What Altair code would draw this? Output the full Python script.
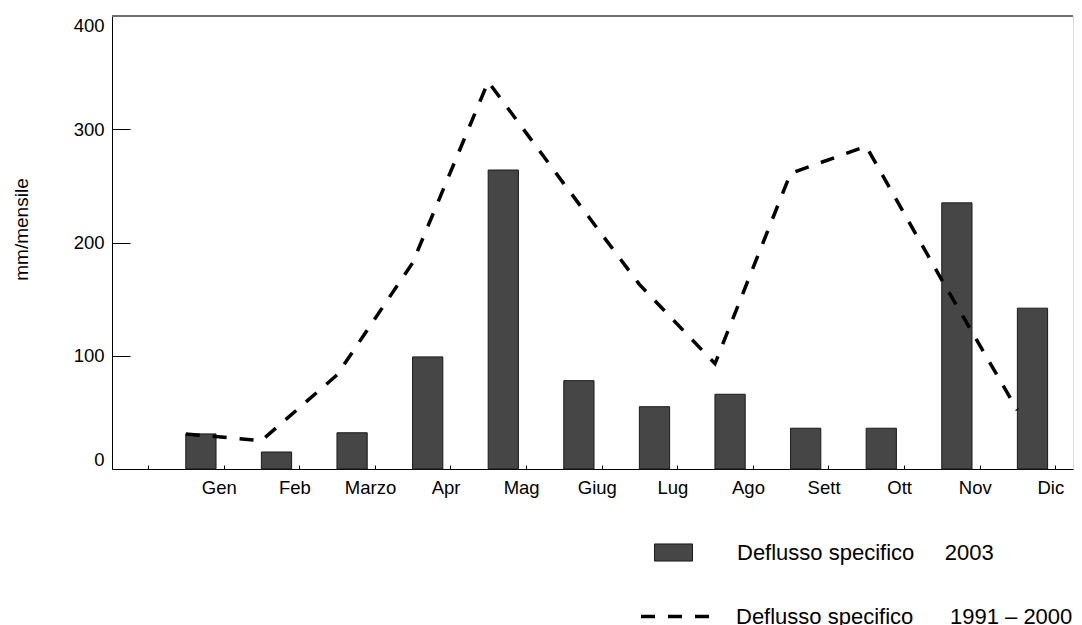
import altair as alt
import pandas as pd

# ---- data ----
months = ["Gen", "Feb", "Marzo", "Apr", "Mag", "Giug", "Lug", "Ago", "Sett", "Ott", "Nov", "Dic"]
flow_2003 = [31, 15, 32, 99, 264, 78, 55, 66, 36, 36, 235, 142]
flow_1991_2000 = [31, 25, 83, 182, 342, 252, 163, 93, 261, 285, 167, 52]
y_ticks = [0, 100, 200, 300, 400]
x_tick_values = [k - 0.5 for k in range(13)]

label_bar = "Deflusso specifico" + "\u00a0" * 5 + "2003"
label_line = "Deflusso specifico" + "\u00a0" * 6 + "1991 \u2013 2000"

FONT = "Liberation Sans"
BAR_W = 0.4

df = pd.DataFrame({
    "idx": list(range(len(months))),
    "month": months,
    "v2003": flow_2003,
    "v9100": flow_1991_2000,
})
df["idx_end"] = df["idx"] + BAR_W
df["bar_series"] = label_bar
df["line_series"] = label_line

month_js = "[" + ",".join("'" + m + "'" for m in months) + "]"
label_expr = f"datum.value < 0 ? '' : {month_js}[floor(datum.value)]"

xscale = alt.Scale(domain=[-0.976, 11.736], nice=False, zero=False)
yscale = alt.Scale(domain=[0, 400], nice=False)

x_axis = alt.Axis(
    values=x_tick_values, labelExpr=label_expr, title=None,
    ticks=False, grid=True, gridColor="black", gridOpacity=1, gridWidth=1,
    gridDash=[4, 449], gridDashOffset=4,
    labelOffset=-4.8, labelPadding=9, labelFontSize=18.5, labelFont=FONT,
    labelColor="black", domainColor="black", domainWidth=1, labelFlush=False,
)
y_axis = alt.Axis(
    values=y_ticks, title="mm/mensile", ticks=False, grid=True,
    gridColor="black", gridOpacity=1, gridWidth=1, gridDash=[18, 2000],
    labelPadding=8, labelFontSize=18.5, labelFont=FONT, labelColor="black",
    labelFlush=True, domainColor="black", domainWidth=1,
    titleFont=FONT, titleFontSize=19, titleFontWeight="normal", titleColor="black",
    titleX=-91, titleY=213, titleBaseline="middle", titleAngle=-90,
)

base = alt.Chart(df)

top_rule = base.mark_rule(color="#6f6f6f", strokeWidth=1.5).encode(
    y=alt.datum(400, scale=yscale)
)

bars = base.mark_bar(stroke="#1a1a1a", strokeWidth=1).encode(
    x=alt.X("idx:Q", scale=xscale, axis=x_axis),
    x2="idx_end:Q",
    y=alt.Y("v2003:Q", scale=yscale, axis=y_axis),
    y2=alt.datum(0),
    fill=alt.Fill(
        "bar_series:N",
        scale=alt.Scale(range=["#464646"]),
        legend=alt.Legend(
            title=None, orient="none", legendX=542, legendY=517,
            symbolType="M-1,-0.45H1V0.45H-1Z", symbolSize=1444,
            symbolStrokeColor="#1a1a1a", symbolStrokeWidth=1, symbolOpacity=1,
            labelOffset=44, labelFontSize=22, labelFont=FONT, labelColor="black",
            labelLimit=0, padding=0,
        ),
    ),
)

line = base.mark_line(color="black", strokeWidth=3.5).encode(
    x=alt.X("idx:Q", scale=xscale),
    y=alt.Y("v9100:Q", scale=yscale),
    strokeDash=alt.StrokeDash(
        "line_series:N",
        scale=alt.Scale(range=[[14, 13]]),
        legend=alt.Legend(
            title=None, orient="none", legendX=527, legendY=562,
            symbolType="stroke", symbolSize=5329, symbolStrokeWidth=3.5,
            symbolStrokeColor="black",
            labelOffset=20, labelFontSize=22, labelFont=FONT, labelColor="black",
            labelLimit=0, padding=0,
        ),
    ),
)

chart = alt.layer(top_rule, bars, line).properties(
    width=961, height=453,
    autosize=alt.AutoSizeParams(type="none"),
    padding={"left": 104, "top": 8, "right": 1, "bottom": 170},
).configure_view(stroke=None).configure(font=FONT)

chart.save("out.html", embed_options={"renderer": "svg", "actions": False})
